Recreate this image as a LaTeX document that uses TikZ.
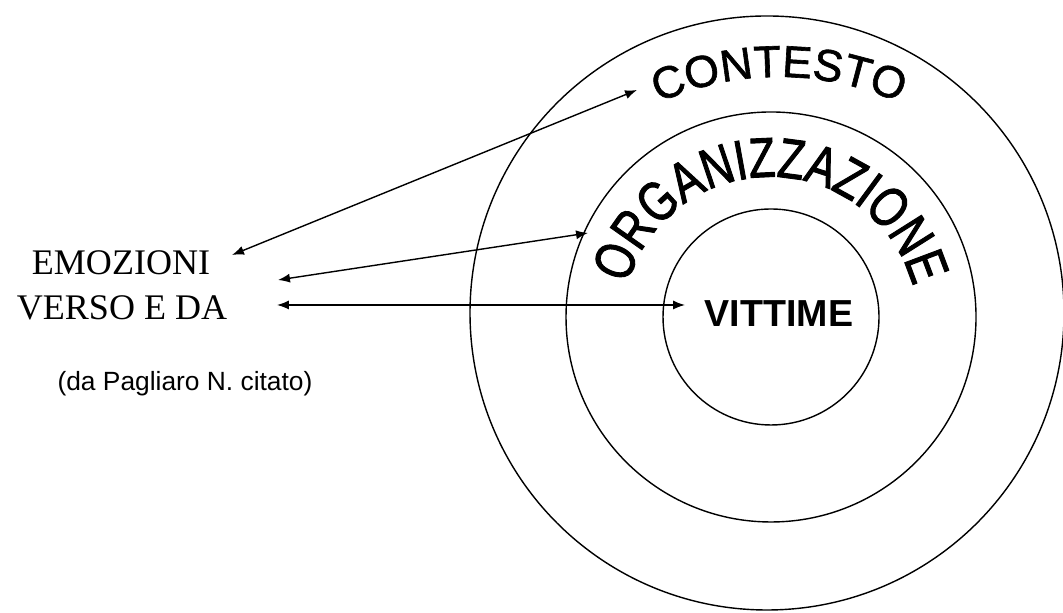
\documentclass[tikz,border=0pt]{standalone}
\usepackage{fontspec}
\setmainfont{Liberation Serif}
\newfontfamily\arialfont{Liberation Sans}
\newfontfamily\contfont[FakeBold=1.4]{Liberation Sans}
\newfontfamily\orgfont[FakeStretch=0.77,FakeBold=1.6]{Liberation Sans}
\usetikzlibrary{arrows.meta,decorations.text}
\tikzset{
  ring/.style={draw,thin},
  biarrow/.style={thin,{Latex[length=3.4pt,width=2.6pt]}-{Latex[length=3.4pt,width=2.6pt]}},
}
\begin{document}
\begin{tikzpicture}
  \useasboundingbox (0,0) rectangle (10.63,6.13);
  \draw[ring] (7.67,3.00) circle[radius=2.97];
  \draw[ring] (7.71,2.96) circle[radius=2.05];
  \draw[ring] (7.71,2.96) circle[radius=1.08];

  % scritte curve
  \path[decorate,decoration={text along path,text align=center,
    text={|\orgfont\fontsize{16}{16}\selectfont|ORGANIZZAZIONE}}]
    (7.70,2.88) ++(162:1.48) arc[start angle=162,end angle=17,radius=1.48];
  \path[decorate,decoration={text along path,text align=center,
    text={|\contfont\fontsize{12.7}{12.7}\selectfont|CONTESTO}}]
    (7.79,2.43) ++(113:2.93) arc[start angle=113,end angle=67,radius=2.93];

  \node [anchor=base,font=\arialfont\bfseries\fontsize{10.7}{10.7}\selectfont] (vittime) at (7.79,2.86) {VITTIME};
  \node [anchor=base,font=\fontsize{10.25}{10.25}\selectfont] (emo) at (1.21,3.38) {EMOZIONI};
  \node [anchor=base,font=\fontsize{10.25}{10.25}\selectfont] (verso) at (1.22,2.93) {VERSO E DA};
  \node [anchor=base,font=\arialfont\fontsize{7.5}{7.5}\selectfont] (cit) at (1.85,2.22) {(da Pagliaro N. citato)};

  \coordinate (a1) at (2.32,3.58);
  \coordinate (b1) at (6.37,5.23);
  \coordinate (a2) at (2.78,3.33);
  \coordinate (b2) at (5.88,3.80);
  \coordinate (a3) at (2.77,3.08);
  \coordinate (b3) at (6.85,3.08);
  \draw[biarrow] (a1) -- (b1);
  \draw[biarrow] (a2) -- (b2);
  \draw[biarrow] (a3) -- (b3);
\end{tikzpicture}
\end{document}
